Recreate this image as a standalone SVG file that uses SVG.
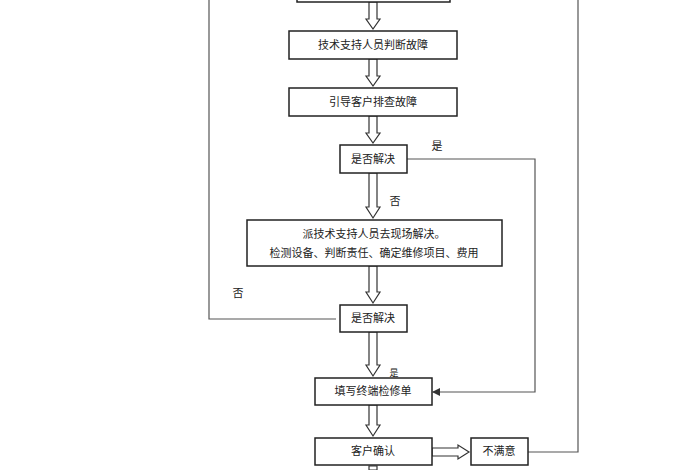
<svg xmlns="http://www.w3.org/2000/svg" width="700" height="470" viewBox="0 0 700 470">
<style>
.b{fill:#fff;stroke:#222;stroke-width:1.5}
.t{font-family:"Noto Sans CJK SC",sans-serif;font-size:11px;fill:#222;text-anchor:middle}
.l{fill:none;stroke:#555;stroke-width:1.2}
.h{fill:#fff;stroke:#333;stroke-width:1.2}
</style>
<defs>
<marker id="a" markerWidth="8" markerHeight="8" refX="7" refY="4" orient="auto" markerUnits="userSpaceOnUse"><path d="M0,0 L8,4 L0,8 z" fill="#333"/></marker>
</defs>
<rect width="700" height="470" fill="#fff"/>
<g id="connectors">
<polyline class="l" points="209,0 209,319 336,319"/>
<polyline class="l" points="407,159 535,159 535,392 433,392" marker-end="url(#a)"/>
<polyline class="l" points="578,0 578,452 528,452"/>
<path class="h" d="M369,2 V19 H366 L373,29 L380,19 H377 V2 Z"/>
<path class="h" d="M369,59 V76 H366 L373,86 L380,76 H377 V59 Z"/>
<path class="h" d="M369,116 V133 H366 L373,143 L380,133 H377 V116 Z"/>
<path class="h" d="M369,173 V207 H366 L373,218 L380,207 H377 V173 Z"/>
<path class="h" d="M369,266 V292 H366 L373,303 L380,292 H377 V266 Z"/>
<path class="h" d="M369,332 V365 H366 L373,376 L380,365 H377 V332 Z"/>
<path class="h" d="M369,405 V425 H366 L373,436 L380,425 H377 V405 Z"/>
<path class="h" d="M432,448 H458 V445 L469,452 L458,459 V456 H432 Z"/>
<path class="h" d="M369,466 V470 H377 V466 Z"/>
<text class="t" x="437" y="150">是</text>
<text class="t" x="395" y="205">否</text>
<text class="t" x="238" y="297">否</text>
<text class="t" x="394" y="376" style="font-size:9px">是</text>
</g>
<g id="n0"><rect class="b" x="297" y="-10" width="153" height="12"/></g>
<g id="n1"><rect class="b" x="289" y="31" width="168" height="28"/><text class="t" x="373" y="49">技术支持人员判断故障</text></g>
<g id="n2"><rect class="b" x="289" y="88" width="168" height="28"/><text class="t" x="373" y="106">引导客户排查故障</text></g>
<g id="n3"><rect class="b" x="340" y="145" width="67" height="28"/><text class="t" x="373" y="163">是否解决</text></g>
<g id="n4"><rect class="b" x="247" y="220" width="255" height="46"/><text class="t" x="374" y="238">派技术支持人员去现场解决。</text><text class="t" x="374" y="257">检测设备、判断责任、确定维修项目、费用</text></g>
<g id="n5"><rect class="b" x="340" y="305" width="67" height="27"/><text class="t" x="373" y="322">是否解决</text></g>
<g id="n6"><rect class="b" x="315" y="378" width="117" height="27"/><text class="t" x="373" y="395">填写终端检修单</text></g>
<g id="n7"><rect class="b" x="315" y="438" width="117" height="27"/><text class="t" x="373" y="455">客户确认</text></g>
<g id="n8"><rect class="b" x="471" y="438" width="57" height="27"/><text class="t" x="499" y="455">不满意</text></g>
</svg>
